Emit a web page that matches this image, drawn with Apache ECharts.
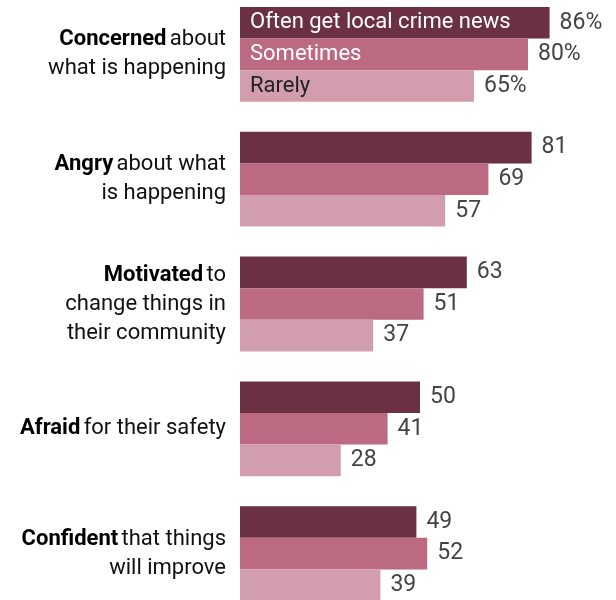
<!DOCTYPE html>
<html><head><meta charset="utf-8">
<script src="https://cdn.jsdelivr.net/npm/echarts@6/dist/echarts.min.js"></script>
<style>html,body{margin:0;padding:0;background:#fff}#c{width:616px;height:600px}</style>
</head><body><div id="c"></div>
<script>
const categories = ['Concerned', 'Angry', 'Motivated', 'Afraid', 'Confident'];
const categoryLabels = [
  '{b|Concerned} {n|about}\n{n|what is happening}',
  '{b|Angry} {n|about what}\n{n|is happening}',
  '{b|Motivated} {n|to}\n{n|change things in}\n{n|their community}',
  '{b|Afraid} {n|for their safety}',
  '{b|Confident} {n|that things}\n{n|will improve}'
];
const seriesNames = ['Often get local crime news', 'Sometimes', 'Rarely'];
const often = [86, 81, 63, 50, 49];
const sometimes = [80, 69, 51, 41, 52];
const rarely = [65, 57, 37, 28, 39];
const colors = ['#6b3044', '#bb6a82', '#d29dac'];
const nameColors = ['#ffffff', '#ffffff', '#222222'];

const FONT = 'Roboto, sans-serif';
const FS = 22;
const chart = echarts.init(document.getElementById('c'));
const allData = [often, sometimes, rarely];
const series = allData.map((data, i) => ({
  name: seriesNames[i], type: 'bar', data: data,
  xAxisIndex: 0, yAxisIndex: 0,
  itemStyle: { color: colors[i] },
  barGap: '0%', barCategoryGap: '24%',
  label: {
    show: true, position: 'right', distance: 10,
    fontFamily: FONT, fontSize: 23, color: '#444',
    formatter: p => p.dataIndex === 0 ? p.value + '%' : String(p.value)
  }
}));
// series-name labels inside the first group, drawn on an identical overlay axis
const nameSeries = allData.map((arr, i) => ({
  type: 'bar', data: arr.map((v, j) => j === 0 ? v : '-'),
  xAxisIndex: 1, yAxisIndex: 1, silent: true,
  itemStyle: { color: 'rgba(0,0,0,0)' },
  barGap: '0%', barCategoryGap: '24%',
  label: { show: true, position: 'insideLeft', distance: 10, fontFamily: FONT, fontSize: FS, color: nameColors[i], formatter: () => seriesNames[i] }
}));
const gridPos = { left: 240, right: 16, top: -8, height: 624, containLabel: false, outerBoundsMode: 'none' };
chart.setOption({
  animation: false,
  grid: [Object.assign({}, gridPos), Object.assign({}, gridPos)],
  xAxis: [
    { type: 'value', min: 0, max: 100, show: false, gridIndex: 0 },
    { type: 'value', min: 0, max: 100, show: false, gridIndex: 1 }
  ],
  yAxis: [{
    type: 'category', data: categories, inverse: true, gridIndex: 0,
    axisLine: { show: false }, axisTick: { show: false }, splitLine: { show: false },
    axisLabel: {
      margin: 14, align: 'right',
      formatter: (v, i) => categoryLabels[i],
      rich: {
        b: { fontFamily: FONT, fontSize: FS, fontWeight: 'bold', color: '#000', lineHeight: 29 },
        n: { fontFamily: FONT, fontSize: FS, color: '#111', lineHeight: 29 }
      }
    }
  }, {
    type: 'category', data: categories, inverse: true, gridIndex: 1, show: false
  }],
  series: series.concat(nameSeries)
});
</script></body></html>
